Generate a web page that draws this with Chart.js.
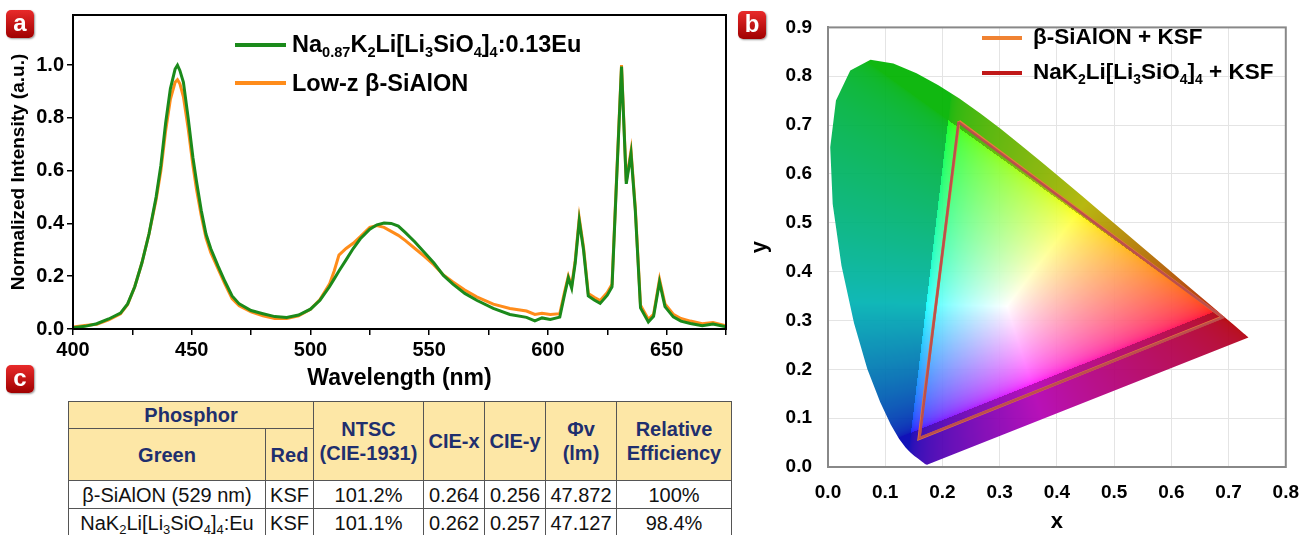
<!DOCTYPE html>
<html>
<head>
<meta charset="utf-8">
<script src="https://cdn.jsdelivr.net/npm/chart.js@4.4.0/dist/chart.umd.min.js"></script>
<style>
body{margin:0;width:1313px;height:535px;overflow:hidden;background:#fff;position:relative;font-family:"Liberation Sans",Arial,sans-serif}
#ca{position:absolute;left:0;top:0}
#cb{position:absolute;left:740px;top:0}
.badge{position:absolute;width:28px;height:28px;border-radius:5px;background:linear-gradient(#e82a2a,#a00000);color:#fff;font:bold 24px "Liberation Sans",Arial,sans-serif;text-align:center;line-height:25px;box-shadow:1px 1px 2px #999}
.leg{position:absolute;font-weight:bold;color:#000;white-space:nowrap;line-height:28px}
.leg sub{font-size:0.62em;vertical-align:-0.35em;line-height:0}
.ln{position:absolute;height:4px}
#tbl{position:absolute;left:68px;top:401px;border-collapse:collapse;table-layout:fixed;width:663px}
#tbl th,#tbl td{border:1.5px solid #555;padding:0;text-align:center;white-space:nowrap}
#tbl th{background:#fde7a6;color:#1f2f6e;font-weight:bold;font-size:20px;line-height:24px}
#tbl td{font-size:20px;line-height:26px;color:#111}
#tbl td sub{font-size:0.65em;vertical-align:-0.3em;line-height:0}
</style>
</head>
<body>
<canvas id="ca" width="740" height="395"></canvas>
<canvas id="cb" width="573" height="535"></canvas>

<div class="badge" style="left:6px;top:10px">a</div>
<div class="badge" style="left:738px;top:11px">b</div>
<div class="badge" style="left:6px;top:365px">c</div>

<!-- legend a -->
<div class="ln" style="left:235px;top:43px;width:51px;background:#1b8a1b"></div>
<div class="leg" style="left:292px;top:30px;font-size:23.5px">Na<sub>0.87</sub>K<sub>2</sub>Li[Li<sub>3</sub>SiO<sub>4</sub>]<sub>4</sub>:0.13Eu</div>
<div class="ln" style="left:235px;top:81px;width:51px;background:#ff8c1a"></div>
<div class="leg" style="left:292px;top:69px;font-size:23.5px">Low-z &beta;-SiAlON</div>

<!-- legend b -->
<div class="ln" style="left:982px;top:36px;width:40px;background:#f08232"></div>
<div class="leg" style="left:1033px;top:23px;font-size:22.5px">&beta;-SiAlON + KSF</div>
<div class="ln" style="left:982px;top:71px;width:40px;background:#c01818"></div>
<div class="leg" style="left:1033px;top:58px;font-size:22.5px">NaK<sub>2</sub>Li[Li<sub>3</sub>SiO<sub>4</sub>]<sub>4</sub> + KSF</div>

<table id="tbl">
<colgroup><col style="width:197px"><col style="width:48px"><col style="width:110px"><col style="width:61px"><col style="width:61px"><col style="width:71px"><col style="width:115px"></colgroup>
<thead>
<tr style="height:27px"><th colspan="2">Phosphor</th><th rowspan="2">NTSC<br>(CIE-1931)</th><th rowspan="2">CIE-x</th><th rowspan="2">CIE-y</th><th rowspan="2">&Phi;v<br>(lm)</th><th rowspan="2">Relative<br>Efficiency</th></tr>
<tr style="height:52px"><th>Green</th><th>Red</th></tr>
</thead>
<tbody id="tbody"></tbody>
</table>

<script>
// ---- panel a: emission spectra ----
var wavelengths = [400,405,410,415,420,423,426,429,432,435,437,439,441,443,444,445,446.5,448.5,450.5,452,454,456,458,461,464,467,470,475,480,485,490,495,500,504,508,510,512,515,518,521,525,528,531,534,537,540,544,548,552,556,560,565,570,577,584,591,594.5,597.5,601,605,607,608.6,610,611.5,613.2,615,617,619.5,622,625,627,629,631,633,635,636.8,639,642.3,644.5,647,649.3,652.8,656,660,665,669.5,675];
var greenIntensity = [0.005,0.010,0.020,0.038,0.060,0.095,0.16,0.25,0.36,0.50,0.62,0.78,0.91,0.985,1.0,0.98,0.935,0.80,0.65,0.56,0.45,0.36,0.305,0.24,0.18,0.125,0.095,0.07,0.058,0.047,0.044,0.053,0.075,0.109,0.16,0.19,0.22,0.262,0.305,0.342,0.378,0.395,0.402,0.40,0.39,0.365,0.33,0.29,0.25,0.203,0.17,0.135,0.109,0.078,0.055,0.044,0.031,0.042,0.036,0.045,0.13,0.194,0.155,0.25,0.41,0.30,0.125,0.11,0.097,0.128,0.16,0.58,0.995,0.55,0.665,0.45,0.08,0.027,0.048,0.178,0.085,0.046,0.03,0.021,0.012,0.019,0.008];
var orangeIntensity = [0.008,0.013,0.018,0.035,0.058,0.093,0.16,0.25,0.36,0.49,0.60,0.75,0.87,0.935,0.945,0.93,0.88,0.76,0.62,0.53,0.43,0.345,0.29,0.23,0.17,0.115,0.088,0.065,0.05,0.04,0.04,0.05,0.075,0.112,0.17,0.22,0.28,0.305,0.325,0.35,0.385,0.392,0.385,0.37,0.355,0.335,0.305,0.275,0.243,0.205,0.178,0.148,0.122,0.094,0.078,0.068,0.055,0.06,0.055,0.058,0.14,0.2,0.163,0.26,0.42,0.31,0.135,0.12,0.108,0.138,0.17,0.59,1.0,0.56,0.675,0.46,0.09,0.037,0.056,0.188,0.095,0.056,0.04,0.03,0.02,0.025,0.012];

// ---- panel b: CIE 1931 diagram ----
var locusX = [0.1741,0.1740,0.1738,0.1736,0.1733,0.1730,0.1726,0.1721,0.1714,0.1703,0.1689,0.1669,0.1644,0.1611,0.1566,0.1510,0.1440,0.1355,0.1241,0.1096,0.0913,0.0687,0.0454,0.0235,0.0082,0.0039,0.0139,0.0389,0.0743,0.1142,0.1547,0.1929,0.2296,0.2658,0.3016,0.3373,0.3731,0.4087,0.4441,0.4788,0.5125,0.5448,0.5752,0.6029,0.6270,0.6482,0.6658,0.6801,0.6915,0.7006,0.7079,0.7140,0.7190,0.7230,0.7260,0.7283,0.7300,0.7311,0.7320,0.7327,0.7334,0.7344,0.7347,0.1741];
var locusY = [0.0050,0.0050,0.0049,0.0049,0.0048,0.0048,0.0048,0.0048,0.0051,0.0058,0.0069,0.0086,0.0109,0.0138,0.0177,0.0227,0.0297,0.0399,0.0578,0.0868,0.1327,0.2007,0.2950,0.4127,0.5384,0.6548,0.7502,0.8120,0.8338,0.8262,0.8059,0.7816,0.7543,0.7243,0.6923,0.6589,0.6245,0.5896,0.5547,0.5202,0.4866,0.4544,0.4242,0.3965,0.3725,0.3514,0.3340,0.3197,0.3083,0.2993,0.2920,0.2859,0.2809,0.2770,0.2740,0.2717,0.2700,0.2689,0.2680,0.2673,0.2666,0.2656,0.2653,0.0050];
var sialonX = [0.229,0.689,0.159,0.229];
var sialonY = [0.708,0.307,0.058,0.708];
var nakX = [0.228,0.690,0.160,0.228];
var nakY = [0.706,0.306,0.059,0.706];

// ---- panel c: table ----
var tableGreen = ['&beta;-SiAlON (529 nm)', 'NaK<sub>2</sub>Li[Li<sub>3</sub>SiO<sub>4</sub>]<sub>4</sub>:Eu'];
var tableRed = ['KSF', 'KSF'];
var ntsc = ['101.2%', '101.1%'];
var cieX = ['0.264', '0.262'];
var cieY = ['0.256', '0.257'];
var flux = ['47.872', '47.127'];
var relEff = ['100%', '98.4%'];

var tb = document.getElementById('tbody');
for (var r = 0; r < tableGreen.length; r++) {
    var tr = document.createElement('tr');
    tr.style.height = '28px';
    [tableGreen[r], tableRed[r], ntsc[r], cieX[r], cieY[r], flux[r], relEff[r]].forEach(function(v) {
        var td = document.createElement('td');
        td.innerHTML = v;
        tr.appendChild(td);
    });
    tb.appendChild(tr);
}

function pts(xs, ys) {
    return xs.map(function(x, i) { return {x: x, y: ys[i]}; });
}

var FONT = '"Liberation Sans", Arial, sans-serif';

// marco completo alrededor del área del gráfico
function framePlugin(color, width) {
    return {
        id: 'frame',
        afterDraw: function(chart) {
            var a = chart.chartArea, ctx = chart.ctx;
            ctx.save();
            ctx.strokeStyle = color;
            ctx.lineWidth = width;
            ctx.strokeRect(a.left, a.top, a.right - a.left, a.bottom - a.top);
            ctx.restore();
        }
    };
}

new Chart(document.getElementById('ca'), {
    type: 'line',
    data: {
        datasets: [
            {label: 'Na0.87K2Li[Li3SiO4]4:0.13Eu', data: pts(wavelengths, greenIntensity), borderColor: '#1b8a1b', borderWidth: 3, pointRadius: 0, tension: 0, order: 1},
            {label: 'Low-z β-SiAlON', data: pts(wavelengths, orangeIntensity), borderColor: '#ff8c1a', borderWidth: 3, pointRadius: 0, tension: 0, order: 2}
        ]
    },
    options: {
        responsive: false,
        animation: false,
        layout: {padding: {top: 12, right: 14, left: 0, bottom: 0}},
        plugins: {legend: {display: false}, tooltip: {enabled: false}},
        scales: {
            x: {
                type: 'linear', min: 400, max: 675,
                afterFit: function(s) { s.height = 395 - 329; },
                ticks: {stepSize: 25, autoSkip: false, maxRotation: 0, padding: 3, color: '#000',
                    font: {family: FONT, size: 20, weight: 'bold'},
                    callback: function(v) { return v % 50 === 0 ? String(v) : ''; }},
                grid: {drawOnChartArea: false, tickLength: 6, color: '#000', lineWidth: 1.5},
                border: {color: '#000', width: 2},
                title: {display: true, text: 'Wavelength (nm)', color: '#000', font: {family: FONT, size: 23, weight: 'bold'}, padding: {top: 0, bottom: 3}}
            },
            y: {
                min: 0, max: 1.19,
                afterFit: function(s) { s.width = 73; },
                afterBuildTicks: function(s) { s.ticks = s.ticks.filter(function(t) { return t.value <= 1.0001; }); },
                ticks: {stepSize: 0.2, padding: 3, color: '#000',
                    font: {family: FONT, size: 20, weight: 'bold'},
                    callback: function(v) { return v.toFixed(1); }},
                grid: {drawOnChartArea: false, tickLength: 6, color: '#000', lineWidth: 1.5},
                border: {color: '#000', width: 2},
                title: {display: true, text: 'Normalized Intensity (a.u.)', color: '#000', font: {family: FONT, size: 19, weight: 'bold'}, padding: {top: 7, bottom: 0}}
            }
        }
    },
    plugins: [framePlugin('#000', 2)]
});

// colores del diagrama de cromaticidad
var gamutR = [0.675, 0.318], gamutG = [0.21, 0.71], gamutB = [0.145, 0.07];

function inv3(m) {
    var a = m[0], b = m[1], c = m[2], d = m[3], e = m[4], f = m[5], g = m[6], h = m[7], i = m[8];
    var A = e * i - f * h, B = -(d * i - f * g), C = d * h - e * g;
    var det = a * A + b * B + c * C;
    return [A / det, -(b * i - c * h) / det, (b * f - c * e) / det,
            B / det, (a * i - c * g) / det, -(a * f - c * d) / det,
            C / det, -(a * h - b * g) / det, (a * e - b * d) / det];
}

function rgbMatrix() {
    var p = [gamutR, gamutG, gamutB];
    var P = [p[0][0] / p[0][1], p[1][0] / p[1][1], p[2][0] / p[2][1],
             1, 1, 1,
             (1 - p[0][0] - p[0][1]) / p[0][1], (1 - p[1][0] - p[1][1]) / p[1][1], (1 - p[2][0] - p[2][1]) / p[2][1]];
    var Pi = inv3(P);
    var W = [0.9505, 1, 1.089];
    var S = [0, 1, 2].map(function(r) { return Pi[r * 3] * W[0] + Pi[r * 3 + 1] * W[1] + Pi[r * 3 + 2] * W[2]; });
    var M = P.map(function(v, k) { return v * S[k % 3]; });
    return inv3(M);
}

function gamutPattern(chart) {
    var xs = chart.scales.x, ys = chart.scales.y, a = chart.chartArea;
    var off = document.createElement('canvas');
    off.width = chart.width;
    off.height = chart.height;
    var octx = off.getContext('2d');
    var img = octx.createImageData(off.width, off.height);
    var Mi = rgbMatrix();
    for (var py = Math.floor(a.top); py < Math.ceil(a.bottom); py++) {
        var y = ys.getValueForPixel(py + 0.5);
        if (y < 0.002) continue;
        for (var px = Math.floor(a.left); px < Math.ceil(a.right); px++) {
            var x = xs.getValueForPixel(px + 0.5);
            var X = x / y, Z = (1 - x - y) / y;
            var rgb = [Mi[0] * X + Mi[1] + Mi[2] * Z, Mi[3] * X + Mi[4] + Mi[5] * Z, Mi[6] * X + Mi[7] + Mi[8] * Z];
            var inside = rgb[0] >= 0 && rgb[1] >= 0 && rgb[2] >= 0;
            rgb = rgb.map(function(v) { return Math.max(v, 0); });
            var mx = Math.max(rgb[0], rgb[1], rgb[2]) || 1;
            var k = inside ? 1 : 0.7;
            var idx = (py * off.width + px) * 4;
            for (var c = 0; c < 3; c++) img.data[idx + c] = Math.round(255 * k * Math.pow(rgb[c] / mx, 1 / 2.2));
            img.data[idx + 3] = 238;
        }
    }
    octx.putImageData(img, 0, 0);
    return chart.ctx.createPattern(off, 'no-repeat');
}

var gamutFill = {
    id: 'gamutFill',
    afterLayout: function(chart) {
        chart.data.datasets[2].backgroundColor = gamutPattern(chart);
    }
};

new Chart(document.getElementById('cb'), {
    type: 'scatter',
    data: {
        datasets: [
            {label: 'NaK2Li[Li3SiO4]4 + KSF', data: pts(nakX, nakY), showLine: true, borderColor: 'rgba(180,70,80,0.85)', borderWidth: 2.5, pointRadius: 0, order: 1},
            {label: 'β-SiAlON + KSF', data: pts(sialonX, sialonY), showLine: true, borderColor: 'rgb(230,125,60)', borderWidth: 3, pointRadius: 0, order: 2},
            {label: 'locus', data: pts(locusX, locusY), showLine: true, fill: 'shape', borderWidth: 0, borderColor: 'rgba(0,0,0,0)', backgroundColor: 'rgba(0,0,0,0)', pointRadius: 0, order: 3}
        ]
    },
    options: {
        responsive: false,
        animation: false,
        layout: {padding: {top: 12, right: 18, left: 0, bottom: 0}},
        plugins: {legend: {display: false}, tooltip: {enabled: false}},
        scales: {
            x: {
                type: 'linear', min: 0, max: 0.8,
                afterFit: function(s) { s.height = 535 - 467; },
                ticks: {stepSize: 0.1, padding: 14, color: '#000', maxRotation: 0,
                    font: {family: FONT, size: 19, weight: 'bold'},
                    callback: function(v) { return v.toFixed(1); }},
                grid: {color: '#e4e4e4', lineWidth: 1, drawTicks: false},
                border: {color: '#888', width: 2},
                title: {display: true, text: 'x', color: '#000', font: {family: FONT, size: 22, weight: 'bold'}, padding: {top: 0, bottom: 0}}
            },
            y: {
                type: 'linear', min: 0, max: 0.9,
                afterFit: function(s) { s.width = 88; },
                ticks: {stepSize: 0.1, padding: 16, color: '#000',
                    font: {family: FONT, size: 19, weight: 'bold'},
                    callback: function(v) { return v.toFixed(1); }},
                grid: {color: '#e4e4e4', lineWidth: 1, drawTicks: false},
                border: {color: '#888', width: 2},
                title: {display: true, text: 'y', color: '#000', font: {family: FONT, size: 22, weight: 'bold'}, padding: {top: 7, bottom: 0}}
            }
        }
    },
    plugins: [gamutFill, framePlugin('#888', 2)]
});
</script>
</body>
</html>
